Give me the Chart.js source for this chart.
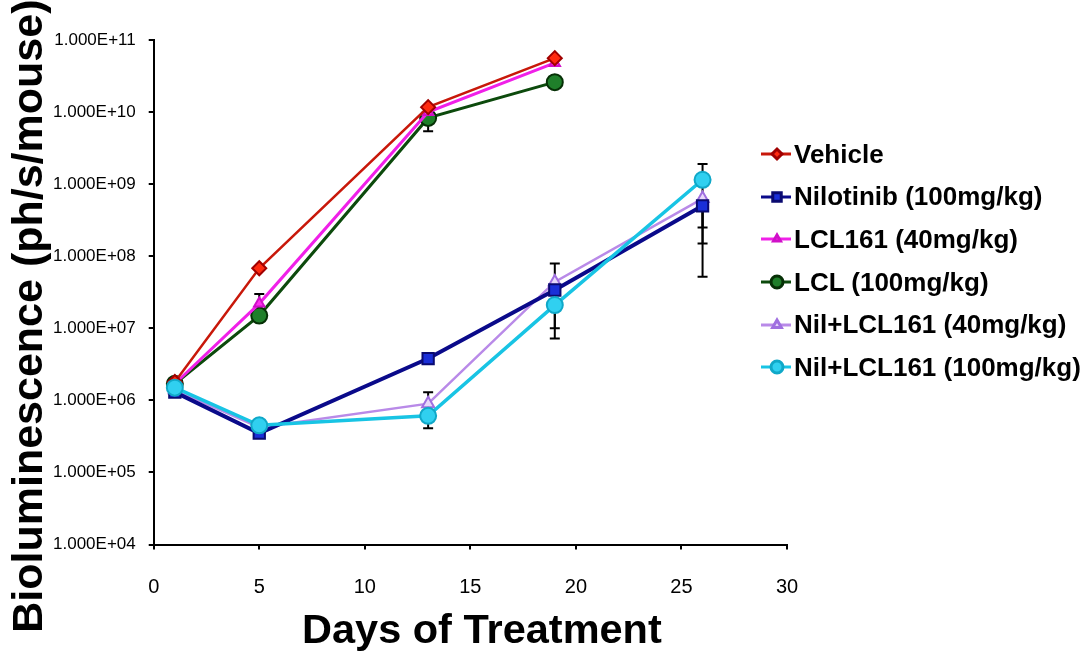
<!DOCTYPE html>
<html>
<head>
<meta charset="utf-8">
<script src="https://cdn.jsdelivr.net/npm/chart.js@4.4.0/dist/chart.umd.min.js"></script>
<style>
  html, body { margin: 0; padding: 0; background: #fff; }
  #wrap { position: relative; width: 1089px; height: 655px; }
  #legend {
    position: absolute; left: 760px; top: 133px;
    font: bold 26px "Liberation Sans", Arial, sans-serif; color: #000;
  }
  .row { display: flex; align-items: center; height: 42.6px; white-space: nowrap; }
  .row canvas { margin-right: 2px; }
</style>
</head>
<body>
<div id="wrap">
  <canvas id="chart"></canvas>
  <div id="legend"></div>
</div>
<script>
// days of treatment
const days = [1, 5, 13, 19, 26];

// bioluminescence (ph/s/mouse)
const vehicle = [1.8e6, 6.8e7, 1.17e10, 5.6e10, null];
const nilotinib = [1.3e6, 3.5e5, 3.8e6, 3.4e7, 5.0e8];
const lcl40 = [1.7e6, 2.2e7, 1.0e10, 4.8e10, null];
const lcl100 = [1.7e6, 1.5e7, 8.3e9, 2.6e10, null];
const nil40 = [1.4e6, 4.2e5, 9.0e5, 4.4e7, 6.3e8];
const nil100 = [1.5e6, 4.5e5, 6.1e5, 2.1e7, 1.15e9];

// error bars [low, high], null = none
const vehicleErr = [null, null, null, null, null];
const nilotinibErr = [null, null, null, [1.0e7, null], [5.2e7, null]];
const lcl40Err = [null, [null, 3.0e7], null, null, null];
const lcl100Err = [null, null, [5.4e9, null], null, null];
const nil40Err = [null, null, [null, 1.3e6], [null, 7.9e7], [1.5e8, null]];
const nil100Err = [null, null, [4.1e5, null], [7.2e6, null], [2.5e8, 1.9e9]];

const yTicks = [1e4, 1e5, 1e6, 1e7, 1e8, 1e9, 1e10, 1e11];

const labels = [
  "Vehicle",
  "Nilotinib (100mg/kg)",
  "LCL161 (40mg/kg)",
  "LCL (100mg/kg)",
  "Nil+LCL161 (40mg/kg)",
  "Nil+LCL161 (100mg/kg)",
];

function points(vals) {
  const out = [];
  days.forEach((d, i) => {
    if (vals[i] != null) out.push({ x: d, y: vals[i] });
  });
  return out;
}

function sci(v) {
  return v.toExponential(3).toUpperCase().replace(/E\+(\d)$/, "E+0$1");
}

const datasets = [
  { label: labels[0], data: points(vehicle), err: vehicleErr,
    borderColor: "#c8180a", pointBackgroundColor: "#ff2a10", pointBorderColor: "#a00000",
    pointStyle: "rectRot", pointRadius: 7, borderWidth: 2.5 },
  { label: labels[1], data: points(nilotinib), err: nilotinibErr,
    borderColor: "#0a0a8a", pointBackgroundColor: "#1a2fd8", pointBorderColor: "#0a0a70",
    pointStyle: "rect", pointRadius: 8, borderWidth: 4 },
  { label: labels[2], data: points(lcl40), err: lcl40Err,
    borderColor: "#f020e8", pointBackgroundColor: "#ff30f0", pointBorderColor: "#d010c8",
    pointStyle: "triangle", pointRadius: 6, borderWidth: 3 },
  { label: labels[3], data: points(lcl100), err: lcl100Err,
    borderColor: "#0c4a0c", pointBackgroundColor: "#1f7f2a", pointBorderColor: "#063006",
    pointStyle: "circle", pointRadius: 8, borderWidth: 3 },
  { label: labels[4], data: points(nil40), err: nil40Err,
    borderColor: "#b98ae8", pointBackgroundColor: "#e8d8fa", pointBorderColor: "#a070e0",
    pointStyle: "triangle", pointRadius: 7, borderWidth: 2.5 },
  { label: labels[5], data: points(nil100), err: nil100Err,
    borderColor: "#18c4e4", pointBackgroundColor: "#30d0f0", pointBorderColor: "#10a8c8",
    pointStyle: "circle", pointRadius: 8, borderWidth: 3.5, order: -1 },
];

datasets.forEach((ds) => {
  ds.pointBorderWidth = 2;
  ds.pointHoverRadius = ds.pointRadius;
  ds.tension = 0;
  ds.fill = false;
});

// vertical error bars drawn under the lines
const errorBars = {
  id: "errorBars",
  beforeDatasetsDraw(chart) {
    const { ctx, scales: { x, y } } = chart;
    ctx.save();
    ctx.strokeStyle = "#000";
    ctx.lineWidth = 2;
    chart.data.datasets.forEach((ds) => {
      const vals = ds.data;
      ds.err.forEach((e, i) => {
        if (!e) return;
        const val = vals.find((p) => p.x === days[i]).y;
        const px = x.getPixelForValue(days[i]);
        const py = y.getPixelForValue(val);
        e.forEach((end) => {
          if (end == null) return;
          const ey = y.getPixelForValue(end);
          ctx.beginPath();
          ctx.moveTo(px, py);
          ctx.lineTo(px, ey);
          ctx.moveTo(px - 5, ey);
          ctx.lineTo(px + 5, ey);
          ctx.stroke();
        });
      });
    });
    ctx.restore();
  },
};

const axisGrid = {
  drawOnChartArea: false,
  drawTicks: true,
  tickLength: 5,
  color: "#000",
  lineWidth: 2,
};

const $chart = document.getElementById("chart").getContext("2d");
const chart = new Chart($chart, {
  type: "line",
  data: { datasets },
  plugins: [errorBars],
  options: {
    responsive: true,
    maintainAspectRatio: false,
    animation: false,
    layout: { padding: { left: 0, right: 302, top: 40, bottom: 0 } },
    plugins: {
      legend: { display: false },
      tooltip: { enabled: false },
    },
    scales: {
      x: {
        type: "linear",
        min: 0,
        max: 30,
        grid: axisGrid,
        border: { color: "#000", width: 2 },
        ticks: {
          stepSize: 5,
          color: "#000",
          padding: 26,
          font: { family: "Liberation Sans", size: 20 },
        },
        title: {
          display: true,
          text: "  Days of Treatment",
          color: "#000",
          padding: { top: -14.5, bottom: 2.5 },
          font: { family: "Liberation Sans", size: 41.5, weight: "bold", lineHeight: 1 },
        },
      },
      y: {
        type: "logarithmic",
        min: 1e4,
        max: 1e11,
        grid: axisGrid,
        border: { color: "#000", width: 2 },
        afterBuildTicks: (scale) => {
          scale.ticks = yTicks.map((v) => ({ value: v }));
        },
        ticks: {
          color: "#000",
          padding: 13,
          font: { family: "Liberation Sans", size: 17 },
          callback: (v) => sci(v),
        },
        title: {
          display: true,
          text: "Bioluminescence (ph/s/mouse)    ",
          color: "#000",
          padding: { top: 8.5, bottom: -11.5 },
          font: { family: "Liberation Sans", size: 43, weight: "bold", lineHeight: 1 },
        },
      },
    },
  },
});

// html legend: line + marker, then the label
const $legend = document.getElementById("legend");
chart.data.datasets.forEach((ds) => {
  const row = document.createElement("div");
  row.className = "row";
  const icon = document.createElement("canvas");
  icon.width = 32;
  icon.height = 22;
  const c = icon.getContext("2d");
  c.strokeStyle = ds.borderColor;
  c.lineWidth = 3;
  c.beginPath();
  c.moveTo(1, 11);
  c.lineTo(31, 11);
  c.stroke();
  c.fillStyle = ds.pointBackgroundColor;
  c.strokeStyle = ds.pointBorderColor;
  Chart.helpers.drawPoint(c, {
    pointStyle: ds.pointStyle,
    rotation: 0,
    radius: ds.pointRadius - 2,
    borderWidth: 1.5,
  }, 17, 11);
  const text = document.createElement("span");
  text.textContent = ds.label;
  row.appendChild(icon);
  row.appendChild(text);
  $legend.appendChild(row);
});
</script>
</body>
</html>
